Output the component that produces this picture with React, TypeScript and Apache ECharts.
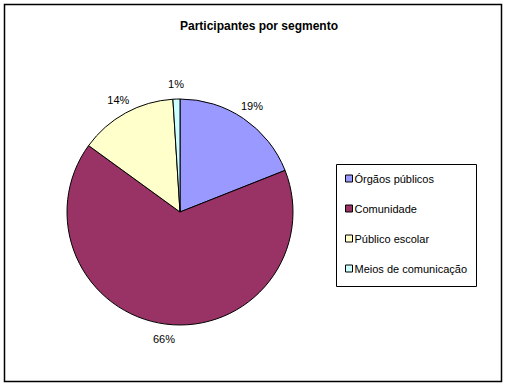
import React, { useEffect, useRef } from "react";
import * as echarts from "echarts";

const categories = ["Órgãos públicos", "Comunidade", "Público escolar", "Meios de comunicação"];
const values = [19, 66, 14, 1];
const colors = ["#9999FF", "#993366", "#FFFFCC", "#CCFFFF"];
const title = "Participantes por segmento";

export default function App() {
  const ref = useRef<HTMLDivElement>(null);
  useEffect(() => {
    const chart = echarts.init(ref.current!, null, { renderer: "svg" });
    const data = categories.map((c, i) => ({ name: c, value: values[i] }));
    chart.setOption({
      animation: false,
      backgroundColor: "#fff",
      title: {
        text: title,
        left: 254,
        top: 15,
        textAlign: "center",
        textStyle: { fontFamily: "Liberation Sans", fontSize: 12, fontWeight: "bold", color: "#000" },
      },
      graphic: [
        {
          type: "rect",
          shape: { x: 4.5, y: 4.5, width: 497, height: 377 },
          style: { fill: "none", stroke: "#000", lineWidth: 1.5 },
          z: 0,
        },
        {
          type: "rect",
          shape: { x: 336.5, y: 164.5, width: 140, height: 122 },
          style: { fill: "none", stroke: "#000", lineWidth: 1 },
          z: 0,
        },
      ],
      legend: {
        orient: "vertical",
        left: 340,
        top: 168,
        itemGap: 19,
        itemWidth: 7,
        itemHeight: 7,
        icon: "rect",
        textStyle: { fontFamily: "Liberation Sans", fontSize: 11, color: "#000", padding: [0, 0, 0, -3] },
        data: categories.map((c, i) => ({
          name: c,
          itemStyle: { color: colors[i], borderColor: "#000", borderWidth: 1 },
        })),
      },
      series: [
        {
          type: "pie",
          center: [180, 212],
          radius: 113,
          startAngle: 90,
          clockwise: true,
          data,
          itemStyle: { borderColor: "#000", borderWidth: 1 },
          color: colors,
          label: { show: false },
          labelLine: { show: false },
          emphasis: { disabled: true },
          silent: true,
        },
        {
          type: "pie",
          center: [180, 212],
          radius: [116, 134],
          startAngle: 90,
          clockwise: true,
          data,
          itemStyle: { color: "transparent", borderWidth: 0 },
          label: {
            show: true,
            position: "inside",
            formatter: "{d}%",
            fontFamily: "Liberation Sans",
            fontSize: 11,
            color: "#000",
          },
          labelLine: { show: false },
          emphasis: { disabled: true },
          silent: true,
          legendHoverLink: false,
        },
      ],
    });
    return () => chart.dispose();
  }, []);
  return <div ref={ref} style={{ position: "fixed", left: 0, top: 0, width: 505, height: 386 }} />;
}
